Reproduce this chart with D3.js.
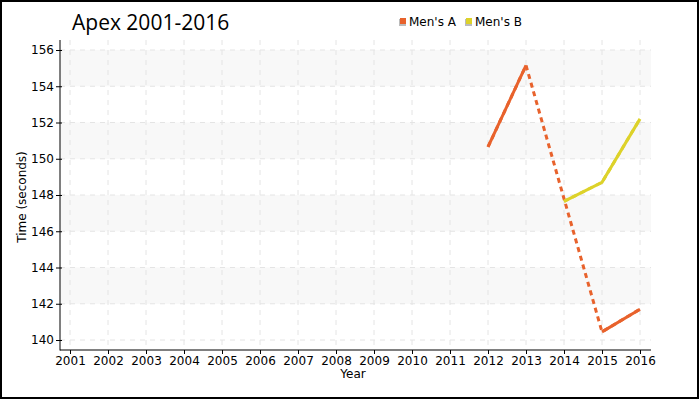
<!DOCTYPE html>
<html><head><meta charset="utf-8">
<script src="https://cdn.jsdelivr.net/npm/d3@7"></script>
<style>body{margin:0;background:#fff}svg{display:block}</style>
</head><body><div id="chart"></div>
<script>
const years = [2001,2002,2003,2004,2005,2006,2007,2008,2009,2010,2011,2012,2013,2014,2015,2016];
const mensA = [null,null,null,null,null,null,null,null,null,null,null,150.65,155.15,null,140.45,141.7];
const mensB = [null,null,null,null,null,null,null,null,null,null,null,null,null,147.65,148.7,152.2];
const yTicks = [140,142,144,146,148,150,152,154,156];
const seriesNames = ["Men's A","Men's B"];
const colors = ["#e8622c","#ddd22a"];

(function(){
const W=700,H=400;
const svg=d3.select("#chart").append("svg").attr("width",W).attr("height",H);
svg.append("rect").attr("x",1).attr("y",1).attr("width",W-3).attr("height",H-3)
  .attr("fill","#fff").attr("stroke","#000").attr("stroke-width",2);

const pL=60,pR=651,pT=40,pB=350;
const x=d3.scaleLinear().domain([2001,2016]).range([70,640]);
const y=d3.scaleLinear().domain([140,156]).range([340,50]);

// bands
const g=svg.append("g");
for(let i=0;i<yTicks.length-1;i++){
  if(i%2===1){
    g.append("rect").attr("x",pL).attr("width",pR-pL)
     .attr("y",y(yTicks[i+1])).attr("height",y(yTicks[i])-y(yTicks[i+1]))
     .attr("fill","#f8f8f8");
  }
}
// grid
g.selectAll("line.vg").data(years).enter().append("line")
 .attr("x1",d=>x(d)).attr("x2",d=>x(d)).attr("y1",pT).attr("y2",pB)
 .attr("stroke","#e4e4e4").attr("stroke-dasharray","5,5");
g.selectAll("line.hg").data(yTicks).enter().append("line")
 .attr("x1",pL).attr("x2",pR).attr("y1",d=>y(d)).attr("y2",d=>y(d))
 .attr("stroke","#e4e4e4").attr("stroke-dasharray","5,5");

// axes
const font="DejaVu Sans, sans-serif";
const xAxis=svg.append("g").attr("transform",`translate(0,${pB})`)
 .call(d3.axisBottom(x).tickValues(years).tickFormat(d3.format("d")).tickSize(4).tickSizeOuter(0));
const yAxis=svg.append("g").attr("transform",`translate(${pL},0)`)
 .call(d3.axisLeft(y).tickValues(yTicks).tickSize(4).tickSizeOuter(0));
[xAxis,yAxis].forEach(a=>{
  a.select(".domain").remove();
  a.selectAll("text").attr("font-family",font).attr("font-size",12).attr("fill","#000");
  a.selectAll(".tick line").attr("stroke","#000");
});
xAxis.selectAll("text").attr("dy","0.71em").attr("y",6);
yAxis.selectAll(".tick line").attr("x1",2);
yAxis.selectAll("text").attr("x",-6);
svg.append("line").attr("x1",pL).attr("x2",pL).attr("y1",pT).attr("y2",pB+0.5).attr("stroke","#000");
svg.append("line").attr("x1",pL).attr("x2",pR).attr("y1",pB).attr("y2",pB).attr("stroke","#000");

// lines
[mensA,mensB].forEach((vals,si)=>{
  const pts=years.map((yr,i)=>({yr,v:vals[i]}));
  const def=pts.filter(p=>p.v!==null);
  svg.append("path").datum(def)
   .attr("d",d3.line().x(p=>x(p.yr)).y(p=>y(p.v)))
   .attr("fill","none").attr("stroke",colors[si]).attr("stroke-width",3).attr("stroke-dasharray","5,4");
  svg.append("path").datum(pts)
   .attr("d",d3.line().defined(p=>p.v!==null).x(p=>x(p.yr)).y(p=>y(p.v)))
   .attr("fill","none").attr("stroke",colors[si]).attr("stroke-width",3);
});

// title
svg.append("text").attr("x",72).attr("y",30).attr("font-family","Open Sans, sans-serif")
 .attr("font-size",21).attr("fill","#000").text("Apex 2001-2016");

// legend
const lx=[400,466];
seriesNames.forEach((n,i)=>{
  svg.append("rect").attr("x",lx[i]-1).attr("y",19).attr("width",7).attr("height",7).attr("fill","#bbb");
  svg.append("rect").attr("x",lx[i]).attr("y",18).attr("width",6).attr("height",6).attr("fill",colors[i]);
  svg.append("text").attr("x",lx[i]+9).attr("y",26).attr("font-family",font).attr("font-size",12)
   .attr("fill","#000").text(n);
});

// axis titles
svg.append("text").attr("x",353).attr("y",378).attr("text-anchor","middle")
 .attr("font-family",font).attr("font-size",12).text("Year");
svg.append("text").attr("transform","translate(26,197) rotate(-90)").attr("text-anchor","middle")
 .attr("font-family",font).attr("font-size",12).text("Time (seconds)");
})();
</script></body></html>
